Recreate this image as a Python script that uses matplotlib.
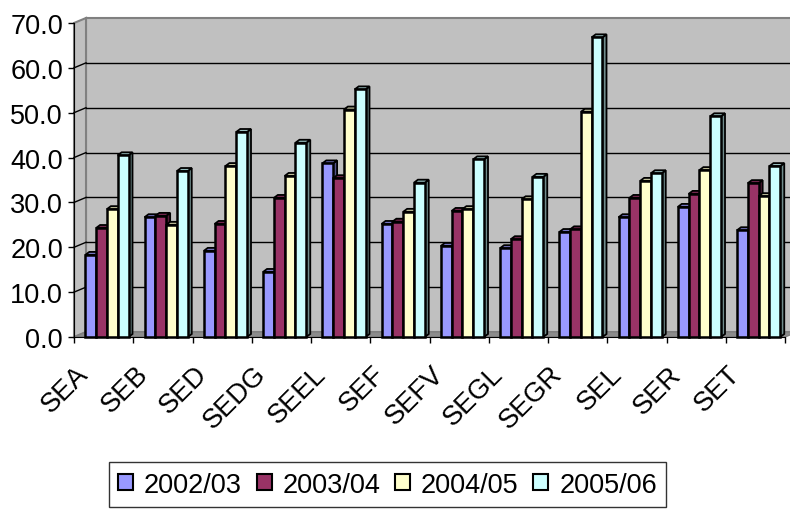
import numpy as np
import matplotlib
matplotlib.use("Agg")
import matplotlib.pyplot as plt
from matplotlib.patches import Polygon, Rectangle, Patch
from matplotlib.colors import to_rgb

plt.rcParams['font.family'] = ['Liberation Sans', 'DejaVu Sans']

categories = ["SEA", "SEB", "SED", "SEDG", "SEEL", "SEF", "SEFV", "SEGL", "SEGR", "SEL", "SER", "SET"]
years = ["2002/03", "2003/04", "2004/05", "2005/06"]
v0203 = [18.3, 26.7, 19.2, 14.5, 38.7, 25.2, 20.3, 19.8, 23.4, 26.7, 29.0, 23.8]
v0304 = [24.3, 27.0, 25.2, 31.0, 35.4, 25.7, 28.1, 21.8, 24.0, 31.0, 31.9, 34.3]
v0405 = [28.5, 25.0, 38.1, 35.9, 50.7, 27.9, 28.5, 30.7, 50.2, 34.8, 37.2, 31.4]
v0506 = [40.5, 37.0, 45.7, 43.3, 55.2, 34.4, 39.6, 35.7, 66.8, 36.5, 49.2, 38.1]
colors = ["#9999ff", "#993366", "#ffffcc", "#ccffff"]

W, H = 790, 510
fig = plt.figure(figsize=(W / 100, H / 100), dpi=100)
# front plane of the 3d box, in pixels
x0, x1, y0, y1 = 74, 785, 338, 24
ax = fig.add_axes([x0 / W, (H - y0) / H, (x1 - x0) / W, (y0 - y1) / H])
ax.set_xlim(0, 12)
ax.set_ylim(0, 70)
ax.patch.set_visible(False)

px_x = (x1 - x0) / 12.0
px_y = (y0 - y1) / 70.0
wx, wy = 12 / px_x, 5 / px_y      # depth of the walls
bx, by = 4 / px_x, 3 / px_y       # depth of a bar

# walls and floor
ax.add_patch(Rectangle((wx, wy), 12, 70, facecolor="#c0c0c0", edgecolor="#808080", lw=1.5, zorder=0, clip_on=False))
ax.add_patch(Polygon([(0, 0), (0, 70), (wx, 70 + wy), (wx, wy)], closed=True,
                     facecolor="#c0c0c0", edgecolor="#808080", lw=1.5, zorder=0.5, clip_on=False))
ax.add_patch(Polygon([(0, 0), (12, 0), (12 + wx, wy), (wx, wy)], closed=True,
                     facecolor="#8c8c8c", edgecolor="#808080", lw=1, zorder=0.5, clip_on=False))
for v in range(10, 70, 10):
    ax.plot([wx, 12 + wx], [v + wy, v + wy], color="black", lw=1, zorder=0.6, clip_on=False)
    ax.plot([0, wx], [v, v + wy], color="black", lw=1, zorder=0.6, clip_on=False)

# 3d style columns
series = [v0203, v0304, v0405, v0506]
bw = 10.8 / px_x
start = 11.3 / px_x
z = 2
for i in range(len(categories)):
    for j, vals in enumerate(series):
        h = vals[i]
        left = i + start + j * bw
        right = left + bw
        c = np.array(to_rgb(colors[j]))
        side = Polygon([(right, 0), (right + bx, by), (right + bx, h + by), (right, h)], closed=True,
                       facecolor=c * 0.55, edgecolor="black", lw=1.3, zorder=z, clip_on=False)
        top = Polygon([(left, h), (left + bx, h + by), (right + bx, h + by), (right, h)], closed=True,
                      facecolor=c * 0.75, edgecolor="black", lw=1.3, zorder=z, clip_on=False)
        front = Rectangle((left, 0), bw, h, facecolor=colors[j], edgecolor="black", lw=1.8,
                          zorder=z + 0.5, clip_on=False)
        ax.add_patch(side)
        ax.add_patch(top)
        ax.add_patch(front)
        z += 1

for s in ["top", "right"]:
    ax.spines[s].set_visible(False)
ax.spines["left"].set_color("black")
ax.spines["bottom"].set_color("black")
ax.spines["left"].set_zorder(200)
ax.spines["bottom"].set_zorder(200)

ax.set_yticks(range(0, 71, 10))
ax.set_yticklabels(["%.1f" % v for v in range(0, 71, 10)])
ax.tick_params(axis="y", direction="out", length=4, width=1, labelsize=19.5, pad=4)
ax.set_xticks(range(13))
ax.set_xticklabels([])
ax.tick_params(axis="x", direction="out", length=4.5, width=1)

for i, name in enumerate(categories):
    ax.text(i + 0.5 - 14 / px_x, -(376 - y0) / px_y, name, rotation=45, ha="right", va="baseline",
            rotation_mode="anchor", fontsize=19.5, clip_on=False)

handles = [Patch(facecolor=c, edgecolor="black", lw=1.5) for c in colors]
leg = fig.legend(handles, years, loc="lower center", bbox_to_anchor=(387.5 / W, 2 / H), ncol=4,
                 fontsize=19.5, frameon=True, fancybox=False, edgecolor="black",
                 handlelength=0.55, handleheight=0.55, handletextpad=0.4, columnspacing=0.55,
                 borderpad=0.35, borderaxespad=0)
leg.get_frame().set_linewidth(1)

fig.savefig("out.png", dpi=100)
